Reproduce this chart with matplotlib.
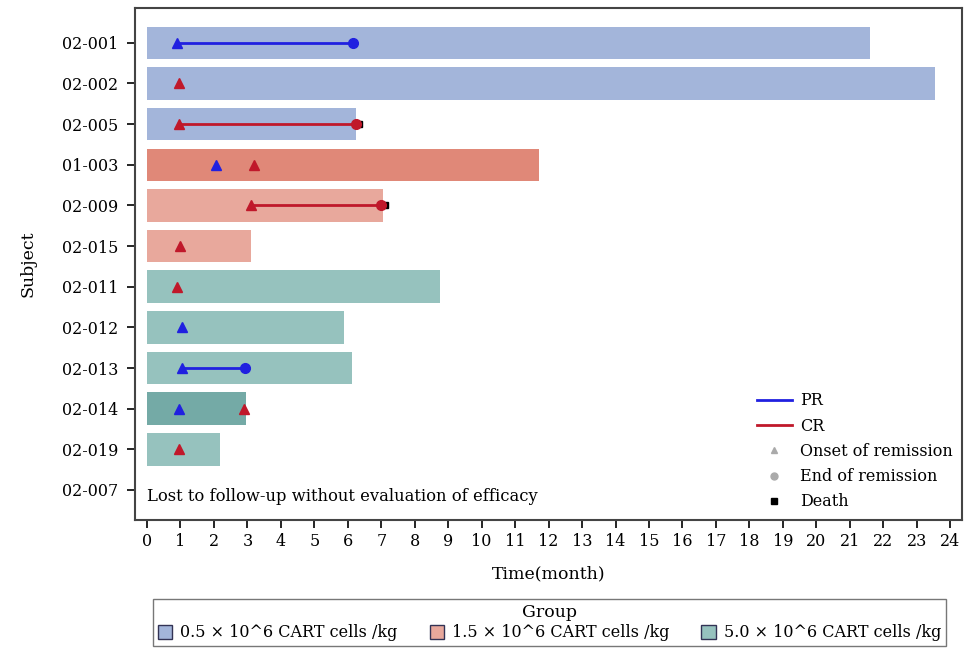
import matplotlib
matplotlib.use("Agg")
import matplotlib.pyplot as plt
from matplotlib.patches import Patch
from matplotlib.lines import Line2D

plt.rcParams['font.family'] = ['DejaVu Serif']

subjects = ["02-001", "02-002", "02-005", "01-003", "02-009", "02-015",
            "02-011", "02-012", "02-013", "02-014", "02-019", "02-007"]
durations = [21.6, 23.55, 6.25, 11.7, 7.05, 3.12, 8.76, 5.89, 6.13, 2.96, 2.18, None]
bar_colors = ["#A3B5DA", "#A3B5DA", "#A3B5DA", "#E08878", "#E8A89C", "#E8A89C",
              "#96C2BE", "#96C2BE", "#96C2BE", "#74AAA6", "#96C2BE", None]

# remission episodes: (subject, type, onset, end or None)
episodes = [
    ("02-001", "PR", 0.9, 6.15),
    ("02-002", "CR", 0.95, None),
    ("02-005", "CR", 0.95, 6.25),
    ("01-003", "PR", 2.05, None),
    ("01-003", "CR", 3.2, None),
    ("02-009", "CR", 3.1, 7.0),
    ("02-015", "CR", 1.0, None),
    ("02-011", "CR", 0.9, None),
    ("02-012", "PR", 1.05, None),
    ("02-013", "PR", 1.05, 2.93),
    ("02-014", "PR", 0.95, None),
    ("02-014", "CR", 2.9, None),
    ("02-019", "CR", 0.95, None),
]
deaths = {"02-005": 6.32, "02-009": 7.12}

group_labels = ["0.5 × 10^6 CART cells /kg", "1.5 × 10^6 CART cells /kg",
                "5.0 × 10^6 CART cells /kg"]
group_colors = ["#A3B5DA", "#E8A89C", "#96C2BE"]
type_colors = {"PR": "#2020E0", "CR": "#C0182A"}

fig = plt.figure(figsize=(9.71, 6.57), dpi=100)
ax = fig.add_axes([0.139, 0.2085, 0.852, 0.7795])

ypos = {s: i for i, s in enumerate(subjects)}
for s, d, c in zip(subjects, durations, bar_colors):
    if d is not None:
        ax.barh(ypos[s], d, height=0.8, color=c, edgecolor='none', zorder=1)

for s, t, on, end in episodes:
    y = ypos[s]
    col = type_colors[t]
    if end is not None:
        ax.plot([on, end], [y, y], color=col, lw=2, zorder=3)
        ax.plot(end, y, 'o', color=col, ms=7, zorder=4)
    ax.plot(on, y, '^', color=col, ms=7, zorder=5)

for s, x in deaths.items():
    ax.plot(x, ypos[s], 's', color='black', ms=5, zorder=3)

ax.text(0.0, ypos["02-007"] + 0.17, "Lost to follow-up without evaluation of efficacy",
        fontsize=11.8, va='center', ha='left')

ax.set_xlim(-0.36, 24.36)
ax.set_ylim(11.74, -0.86)
ax.set_xticks(range(0, 25))
ax.set_yticks(range(len(subjects)))
ax.set_yticklabels(subjects)
ax.tick_params(labelsize=11.5, length=6, width=1.2)
ax.tick_params(axis='y', pad=6)
ax.set_xlabel("Time(month)", fontsize=12.5, labelpad=11)
ax.set_ylabel("Subject", fontsize=12.5, labelpad=18)
for sp in ax.spines.values():
    sp.set_color('#444444')
    sp.set_linewidth(1.5)

handles = [
    Line2D([], [], color=type_colors["PR"], lw=2),
    Line2D([], [], color=type_colors["CR"], lw=2),
    Line2D([], [], marker='^', color='#AAAAAA', ls='none', ms=5),
    Line2D([], [], marker='o', color='#AAAAAA', ls='none', ms=5),
    Line2D([], [], marker='s', color='black', ls='none', ms=5),
]
labels = ["PR", "CR", "Onset of remission", "End of remission", "Death"]
ax.legend(handles, labels, loc='lower right', bbox_to_anchor=(1.0, 0.0),
          frameon=False, fontsize=11.5, handlelength=2.2, labelspacing=0.52,
          borderaxespad=0.2, handletextpad=0.5)

ghandles = [Patch(facecolor=c, edgecolor='#333355', lw=1) for c in group_colors]
fig.legend(ghandles, group_labels, title="Group", loc='center',
           bbox_to_anchor=(0.566, 0.052), ncol=3, fontsize=11.5, title_fontsize=12.5,
           frameon=True, fancybox=False, edgecolor='#555555', handlelength=0.9,
           handleheight=0.9, columnspacing=2.0, handletextpad=0.5,
           borderpad=0.3, labelspacing=0.2)

fig.savefig("out.png", dpi=100)
